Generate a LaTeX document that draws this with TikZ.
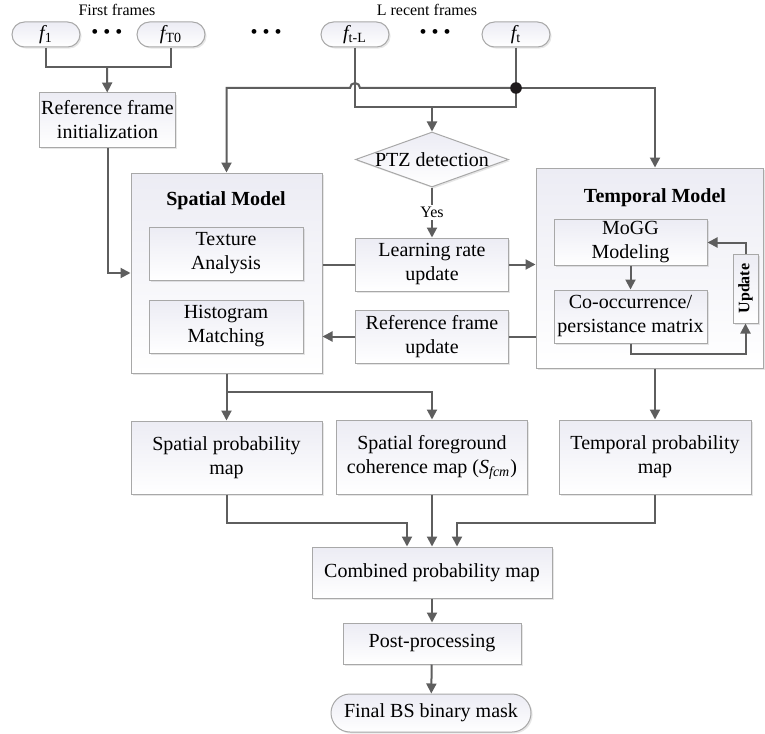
\documentclass[tikz,border=0pt]{standalone}
\usepackage{fontspec}
\setmainfont{Liberation Serif}
\usepackage{graphicx}
\usetikzlibrary{shapes.geometric,shapes.misc,shadows,arrows.meta}
\definecolor{linegray}{HTML}{5E5E5E}
\definecolor{boxgray}{HTML}{A8A8A8}
\definecolor{boxtop}{HTML}{ECECF4}
\definecolor{dotblack}{HTML}{1E1A1C}
\begin{document}
\begin{tikzpicture}[x=0.5pt,y=-0.5pt,
  box/.style={draw=boxgray,line width=0.5pt,top color=boxtop,bottom color=white,align=center,inner sep=1pt,
    drop shadow={opacity=0.2,shadow xshift=0.8pt,shadow yshift=-0.8pt}},
  pill/.style={box,shape=rounded rectangle,minimum width=36pt,minimum height=12.5pt},
  lbl/.style={font=\footnotesize},
  ln/.style={draw=linegray,line width=1pt},
  arr/.style={ln,-{Triangle[length=5pt,width=5pt]}}]
\useasboundingbox (0,0) rectangle (765,733);

% input frames
\node(lblfirst) at (117,10)[lbl]{First frames};
\node(lblrecent) at (427,10)[lbl]{L recent frames};
\node(f1) at (46,34.5)[pill]{{\itshape f}\textsubscript{1}};
\node(dots1) at (107,34){\textbullet~\textbullet~\textbullet};
\node(fT0) at (171,34.5)[pill]{{\itshape f}\textsubscript{T0}};
\node(dots2) at (266,34){\textbullet~\textbullet~\textbullet};
\node(fL) at (355,34.5)[pill]{{\itshape f}\textsubscript{t-L}};
\node(dots3) at (435,34){\textbullet~\textbullet~\textbullet};
\node(ft) at (516,34.5)[pill]{{\itshape f}\textsubscript{t}};

\node(refinit) at (107.5,120)[box,minimum width=66.5pt,minimum height=27pt]{Reference frame\\initialization};
\node(ptz) at (432,159.5)[box,shape=diamond,aspect=2.8,inner sep=-1pt,minimum width=76.5pt,minimum height=27.5pt]{PTZ detection};

% the two models
\node(spatial) at (226.5,273)[box,minimum width=95.5pt,minimum height=100pt]{};
\node(spatialtitle) at (226,201)[font=\bfseries]{Spatial Model};
\node(texture) at (226,253.5)[box,minimum width=77pt,minimum height=26.5pt]{Texture\\Analysis};
\node(histo) at (226,326.5)[box,minimum width=77pt,minimum height=26.5pt]{Histogram\\Matching};

\node(learn) at (432,264.5)[box,minimum width=76.5pt,minimum height=26.5pt]{Learning rate\\update};
\node(refupd) at (432,336.5)[box,minimum width=76.5pt,minimum height=26.5pt]{Reference frame\\update};

\node(temporal) at (649.5,268)[box,minimum width=113.5pt,minimum height=100pt]{};
\node(temporaltitle) at (655,198)[font=\bfseries]{Temporal Model};
\node(mogg) at (630.5,242.5)[box,minimum width=76.5pt,minimum height=21.5pt]{MoGG\\Modeling};
\node(cooc) at (630.5,316.5)[box,minimum width=76.5pt,minimum height=26.5pt]{Co-occurrence/\\persistance matrix};
\node(upd) at (745.5,288.5)[box,minimum width=12.5pt,minimum height=34.5pt]{\rotatebox{90}{\footnotesize\bfseries Update}};

% maps and output
\node(sprob) at (226.5,457.5)[box,minimum width=95.5pt,minimum height=36.5pt]{Spatial probability\\map};
\node(sfcm) at (432,457)[box,minimum width=95.5pt,minimum height=37pt]{Spatial foreground\\coherence map ({\itshape S\textsubscript{fcm}})};
\node(tprob) at (655,457)[box,minimum width=96pt,minimum height=37pt]{Temporal probability\\map};
\node(comb) at (432,572.5)[box,minimum width=120pt,minimum height=25.5pt]{Combined probability map};
\node(post) at (432,643.5)[box,minimum width=89pt,minimum height=20.5pt]{Post-processing};
\node(final) at (431,713)[pill,minimum width=102pt,minimum height=19pt]{Final BS binary mask};

\coordinate(j1) at (107,67);
\coordinate(dot) at (516,88);
\coordinate(j2) at (432,107);
\coordinate(j3) at (226.5,392);
\coordinate(c1) at (407,523);
\coordinate(c3) at (457,523);

\draw[ln] (f1) |- (j1) -| (fT0);
\path (j1) edge[arr] (refinit);
\draw[arr] (refinit) |- (spatial.west);
\draw[ln] (fL) |- (j2);
\draw[ln] (ft) |- (j2);
\path (j2) edge[arr] (ptz);
\draw[arr] (dot) -- ([xshift=2.5pt]fL.south |- dot) arc[start angle=0,end angle=180,radius=2.5pt] -| (spatial.north);
\draw[arr] (dot) -| (tprob |- temporal.north);
\fill[dotblack] (dot) circle (2.9pt);
\path (ptz) edge[arr] node[lbl,fill=white,inner sep=1pt]{Yes} (learn);
\draw[ln] (learn) -- (learn -| spatial.east);
\draw[arr] (learn) -- (learn -| temporal.west);
\draw[ln] (refupd -| temporal.west) -- (refupd);
\draw[arr] (refupd) -- (refupd -| spatial.east);
\path (mogg) edge[arr] (cooc);
\draw[arr] (cooc.south) -- ++(0,10) -| (upd.south);
\draw[arr] (upd.north) |- (mogg.east);
\path (spatial) edge[arr] (sprob);
\draw[arr] (j3) -| (sfcm);
\draw[arr] (tprob |- temporal.south) -- (tprob);
\draw[arr] (sprob) |- (c1) -- (c1 |- comb.north);
\path (sfcm) edge[arr] (comb);
\draw[arr] (tprob) |- (c3) -- (c3 |- comb.north);
\path (comb) edge[arr] (post)
  (post) edge[arr] (final);
\end{tikzpicture}
\end{document}
